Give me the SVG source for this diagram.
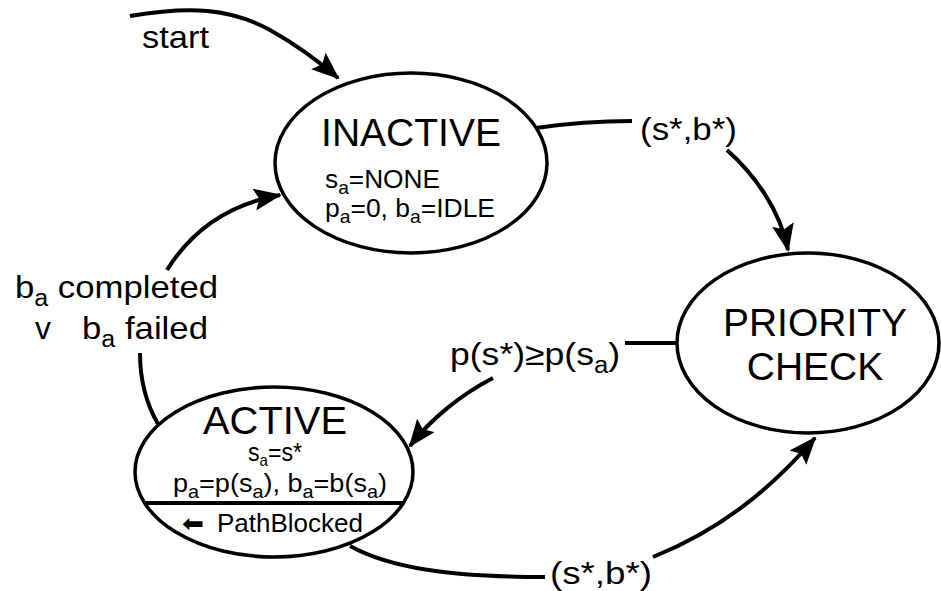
<svg xmlns="http://www.w3.org/2000/svg" width="941" height="591" viewBox="0 0 941 591">
  <style>
    text { font-family: "Liberation Sans", Arial, Helvetica, sans-serif; fill: #000; }
    .state { fill: #fff; stroke: #000; stroke-width: 3.5; }
    .edge { fill: none; stroke: #000; stroke-width: 4; }
    .title { font-size: 39px; text-anchor: middle; }
    .var { font-size: 26px; }
    .lbl { font-size: 32px; }
  </style>
  <defs>
    <marker id="arrow" viewBox="0 0 28 22" refX="26" refY="11" markerWidth="28" markerHeight="22" markerUnits="userSpaceOnUse" orient="auto">
      <path d="M0,0 L28,11 L0,22 L5,11 z" fill="#000"/>
    </marker>
  </defs>

  <!-- transitions -->
  <g id="connectors">
    <!-- start -->
    <path class="edge" d="M130,16 C190,6 230,8 270,30 C295,44 315,58 338,78" marker-end="url(#arrow)"/>
    <text class="lbl" x="142" y="48" textLength="67" lengthAdjust="spacingAndGlyphs">start</text>

    <!-- INACTIVE -> PRIORITY CHECK -->
    <path class="edge" d="M536,128 C570,123 600,121 632,121"/>
    <path class="edge" d="M727,150 C755,175 780,210 788,250" marker-end="url(#arrow)"/>
    <text class="lbl" x="640" y="140" textLength="97" lengthAdjust="spacingAndGlyphs">(s*,b*)</text>

    <!-- PRIORITY CHECK -> ACTIVE -->
    <path class="edge" d="M678,343 L625,343"/>
    <path class="edge" d="M493,378 C460,395 430,420 410,446" marker-end="url(#arrow)"/>
    <text class="lbl" x="450" y="365" textLength="170" lengthAdjust="spacingAndGlyphs">p(s*)≥p(s<tspan font-size="23" dy="8">a</tspan><tspan dy="-8">)</tspan></text>

    <!-- ACTIVE -> PRIORITY CHECK -->
    <path class="edge" d="M350,546 C390,568 450,577 545,577"/>
    <path class="edge" d="M653,557 C720,530 770,490 815,438" marker-end="url(#arrow)"/>
    <text class="lbl" x="550" y="584" textLength="102" lengthAdjust="spacingAndGlyphs">(s*,b*)</text>

    <!-- ACTIVE -> INACTIVE -->
    <path class="edge" d="M158,424 C147,405 140,380 140,353"/>
    <path class="edge" d="M167,270 C195,225 235,203 280,195" marker-end="url(#arrow)"/>
    <text class="lbl" x="15" y="298" textLength="203" lengthAdjust="spacingAndGlyphs">b<tspan font-size="23" dy="8">a</tspan><tspan dy="-8"> completed</tspan></text>
    <text class="lbl" x="35" y="339">v</text>
    <text class="lbl" x="82" y="339" textLength="126" lengthAdjust="spacingAndGlyphs">b<tspan font-size="23" dy="8">a</tspan><tspan dy="-8"> failed</tspan></text>
  </g>

  <g id="inactive">
    <ellipse class="state" cx="411" cy="163" rx="136" ry="90"/>
    <text class="title" x="411" y="146" font-size="40">INACTIVE</text>
    <text class="var" x="325" y="188" textLength="115" lengthAdjust="spacingAndGlyphs">s<tspan font-size="19" dy="6">a</tspan><tspan dy="-6">=NONE</tspan></text>
    <text class="var" x="325" y="217" textLength="170" lengthAdjust="spacingAndGlyphs">p<tspan font-size="19" dy="6">a</tspan><tspan dy="-6">=0, b</tspan><tspan font-size="19" dy="6">a</tspan><tspan dy="-6">=IDLE</tspan></text>
  </g>

  <g id="priority-check">
    <ellipse class="state" cx="808" cy="343" rx="131" ry="90"/>
    <text class="title" x="815" y="336">PRIORITY</text>
    <text class="title" x="815" y="380">CHECK</text>
  </g>

  <g id="active">
    <ellipse class="state" cx="274" cy="472" rx="139" ry="85"/>
    <line x1="145" y1="503" x2="403" y2="503" stroke="#000" stroke-width="4"/>
    <text class="title" x="275" y="434" font-size="36" textLength="144" lengthAdjust="spacingAndGlyphs">ACTIVE</text>
    <text class="var" x="248" y="461" font-size="22" textLength="54" lengthAdjust="spacingAndGlyphs">s<tspan font-size="17" dy="5">a</tspan><tspan dy="-5">=s*</tspan></text>
    <text class="var" x="173" y="492" font-size="25" textLength="214" lengthAdjust="spacingAndGlyphs">p<tspan font-size="19" dy="6">a</tspan><tspan dy="-6">=p(s</tspan><tspan font-size="19" dy="6">a</tspan><tspan dy="-6">), b</tspan><tspan font-size="19" dy="6">a</tspan><tspan dy="-6">=b(s</tspan><tspan font-size="19" dy="6">a</tspan><tspan dy="-6">)</tspan></text>
    <text x="182" y="532" font-family="'DejaVu Sans', sans-serif" font-size="25" textLength="22" lengthAdjust="spacingAndGlyphs">⬅</text>
    <text class="var" x="217" y="532" textLength="146" lengthAdjust="spacingAndGlyphs">PathBlocked</text>
  </g>
</svg>
